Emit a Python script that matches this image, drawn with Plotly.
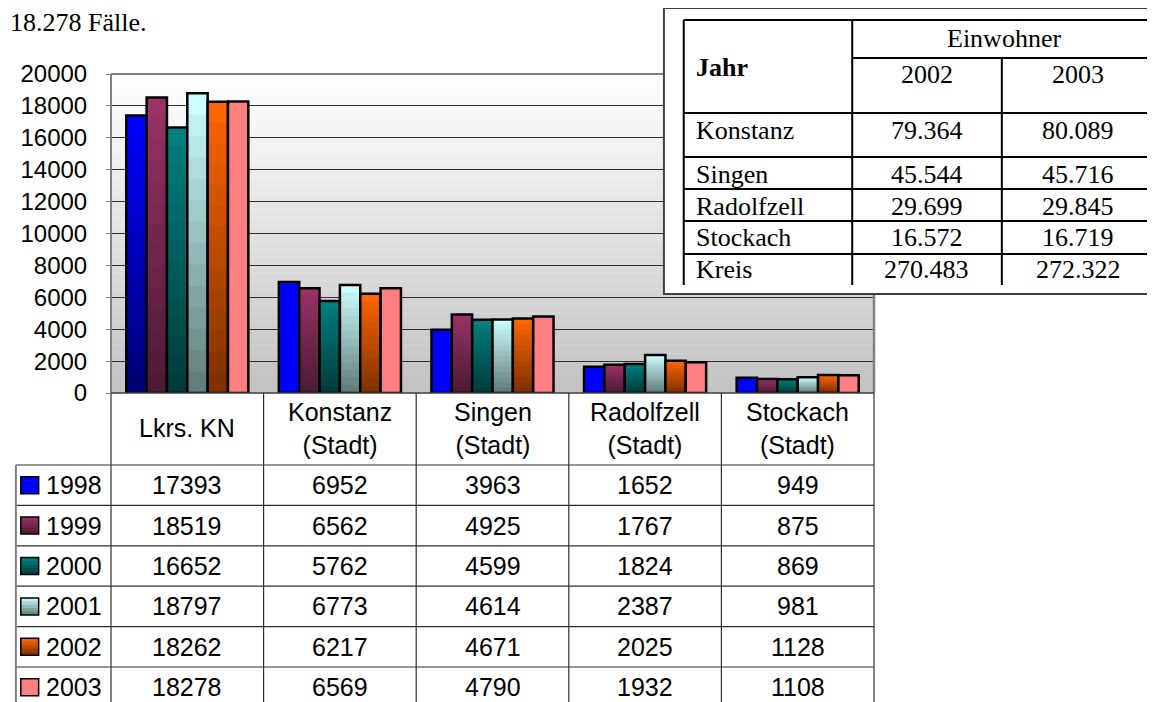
import plotly.graph_objects as go

# ---------------- data ----------------
categories = ["Lkrs. KN", "Konstanz (Stadt)", "Singen (Stadt)", "Radolfzell (Stadt)", "Stockach (Stadt)"]
category_labels = ["Lkrs. KN", "Konstanz<br>(Stadt)", "Singen<br>(Stadt)", "Radolfzell<br>(Stadt)", "Stockach<br>(Stadt)"]
years = ["1998", "1999", "2000", "2001", "2002", "2003"]
v1998 = [17393, 6952, 3963, 1652, 949]
v1999 = [18519, 6562, 4925, 1767, 875]
v2000 = [16652, 5762, 4599, 1824, 869]
v2001 = [18797, 6773, 4614, 2387, 981]
v2002 = [18262, 6217, 4671, 2025, 1128]
v2003 = [18278, 6569, 4790, 1932, 1108]
series_values = [v1998, v1999, v2000, v2001, v2002, v2003]

y_ticks = [0, 2000, 4000, 6000, 8000, 10000, 12000, 14000, 16000, 18000, 20000]

inset_header = "Einwohner"
inset_years = ["2002", "2003"]
inset_cities = ["Konstanz", "Singen", "Radolfzell", "Stockach", "Kreis"]
inset_2002 = [79364, 45544, 29699, 16572, 270483]
inset_2003 = [80089, 45716, 29845, 16719, 272322]

title_text = "18.278 Fälle."

# ---------------- style ----------------
top_colors = ["#0000FF", "#993366", "#008080", "#CCFFFF", "#FF6600", "#FF8080"]
bottom_colors = ["#000070", "#4A1A33", "#003A3A", "#5F7A78", "#7A3000", "#FF8080"]
gradient_mask = [
    [True, False, False, False, False],
    [True] * 5, [True] * 5, [True] * 5, [True] * 5,
    [False] * 5,
]
SANS = "Liberation Sans, Arial, sans-serif"
SERIF = "Liberation Serif, Times New Roman, serif"

# page is offset by the 8px body margin of the html page
OFF = 8
W, H = 1155 - OFF, 702 - OFF
# plot area in page pixels
L, R, T, B = 104, 874, 74, 393
PAGE_H = 702


def px(x):
    return (x - L) / (R - L)


def py(y):
    return (B - y) / (B - T)


def hex2rgb(h):
    h = h.lstrip("#")
    return tuple(int(h[i:i + 2], 16) for i in (0, 2, 4))


def lerp(c1, c2, t):
    a, b = hex2rgb(c1), hex2rgb(c2)
    return "rgb(%d,%d,%d)" % tuple(round(a[i] + (b[i] - a[i]) * t) for i in range(3))


fig = go.Figure()

# bars with vertical gradient (stacked overlapping bands in same offsetgroup)
N = 14
for i, (yr, vals) in enumerate(zip(years, series_values)):
    for k in range(N):
        frac = 1 - k / N
        if k == 0:
            ys = list(vals)
            col = top_colors[i]
        else:
            ys = [v * frac if m else None for v, m in zip(vals, gradient_mask[i])]
            if all(y is None for y in ys):
                continue
            col = lerp(top_colors[i], bottom_colors[i], (k + 0.5) / N)
        fig.add_trace(go.Bar(
            x=categories, y=ys, offsetgroup=str(i),
            marker=dict(color=col, line=dict(width=0)),
            showlegend=False, hoverinfo="skip"))
    fig.add_trace(go.Bar(
        x=categories, y=vals, name=yr, offsetgroup=str(i),
        marker=dict(color="rgba(0,0,0,0)", line=dict(color="black", width=2.5)),
        showlegend=False))

shapes = []
# plot background gradient
NB = 40
for k in range(NB):
    y0 = T + (B - T) * k / NB
    y1 = T + (B - T) * (k + 1) / NB
    shapes.append(dict(type="rect", xref="paper", yref="paper", layer="below",
                       x0=0, x1=1, y0=py(y1), y1=py(y0),
                       fillcolor=lerp("#FFFFFF", "#C2C2C2", (k + 0.5) / NB),
                       line=dict(width=0)))


def line(x0, y0, x1, y1, color="#303030", width=1):
    shapes.append(dict(type="line", xref="paper", yref="paper", layer="above",
                       x0=px(x0), x1=px(x1), y0=py(y0), y1=py(y1),
                       line=dict(color=color, width=width)))


# plot borders
line(L, T, R, T, "#808080", 2)
line(L, T, L, B, "#808080", 2)
line(R, T, R, B, "#808080", 2.5)
line(L, B, R, B, "#404040", 1.5)

# data table lines below the chart
col_edges = [L + (R - L) * j / len(categories) for j in range(len(categories) + 1)]
row_h = 40.4
row_tops = [465 + row_h * k for k in range(len(years))]
for xe in col_edges:
    line(xe, B, xe, PAGE_H + 5, "#303030", 1.2)
for yt in row_tops:
    line(8, yt, R, yt, "#303030", 1.2)
line(8, 465, 8, PAGE_H + 5, "#808080", 2)

# legend keys
for k, yt in enumerate(row_tops):
    cy = yt + row_h / 2
    y0k, y1k = cy - 8.5, cy + 8.5
    nb = 5
    for b in range(nb):
        ya = y0k + (y1k - y0k) * b / nb
        yb = y0k + (y1k - y0k) * (b + 1) / nb + 0.6
        c = top_colors[k] if k in (0, 5) else lerp(top_colors[k], bottom_colors[k], (b + 0.5) / nb)
        shapes.append(dict(type="rect", xref="paper", yref="paper", layer="above",
                           x0=px(13), x1=px(31), y0=py(min(yb, y1k)), y1=py(ya),
                           fillcolor=c, line=dict(width=0)))
    shapes.append(dict(type="rect", xref="paper", yref="paper", layer="above",
                       x0=px(13), x1=px(31), y0=py(y1k), y1=py(y0k),
                       fillcolor="rgba(0,0,0,0)", line=dict(color="black", width=1.5)))

# inset box
XR = 1175
shapes.append(dict(type="rect", xref="paper", yref="paper", layer="above",
                   x0=px(662), x1=px(XR), y0=py(294), y1=py(8),
                   fillcolor="white", line=dict(color="#404040", width=2)))
line(682, 20, 682, 285, "black", 2)
line(682, 20, XR, 20, "black", 2)
line(852, 20, 852, 285, "black", 2)
line(852, 58, XR, 58, "black", 2)
line(1003, 58, 1003, 285, "black", 2)
for yl in [113, 157, 189, 221, 254]:
    line(682, yl, XR, yl, "black", 2)

annotations = []


def text(x, y, s, font, size, xanchor="center", xref="paper"):
    annotations.append(dict(x=x if xref != "paper" else px(x), y=py(y), xref=xref, yref="paper",
                            text=s, showarrow=False, xanchor=xanchor, yanchor="middle",
                            font=dict(family=font, size=size, color="black")))


# title fragment
text(142, 22, title_text, SERIF, 26, xanchor="right")

# category headers
for c, lab in zip(categories, category_labels):
    text(c, 428, lab, SANS, 25, xref="x")

# table values + legend labels
for k, (yr, vals) in enumerate(zip(years, series_values)):
    cy = row_tops[k] + row_h / 2
    text(36, cy, yr, SANS, 25, xanchor="left")
    for c, v in zip(categories, vals):
        text(c, cy, str(v), SANS, 25, xref="x")


def de(v):
    return f"{v:,}".replace(",", ".")


# inset texts
text(1005, 38, inset_header, SERIF, 26)
text(692, 68, "<b>Jahr</b>", SERIF, 26, xanchor="left")
text(927, 74, inset_years[0], SERIF, 26)
text(1080, 74, inset_years[1], SERIF, 26)
row_centers = [130, 174, 206, 237, 269]
for cy, city, a, b in zip(row_centers, inset_cities, inset_2002, inset_2003):
    text(692, cy, city, SERIF, 26, xanchor="left")
    text(927, cy, de(a), SERIF, 26)
    text(1080, cy, de(b), SERIF, 26)

fig.update_layout(
    width=W, height=H, autosize=False,
    margin=dict(l=L - OFF, r=(W + OFF) - R, t=T - OFF, b=(H + OFF) - B, pad=0),
    paper_bgcolor="white", plot_bgcolor="white",
    barmode="group", bargap=0.2, bargroupgap=0,
    showlegend=False,
    shapes=shapes, annotations=annotations,
    xaxis=dict(type="category", categoryorder="array", categoryarray=categories,
               range=[-0.5, len(categories) - 0.5], showticklabels=False,
               showgrid=False, zeroline=False, showline=False, ticks=""),
    yaxis=dict(range=[0, 20000], tickvals=y_ticks, ticktext=[str(t) for t in y_ticks],
               showgrid=True, gridcolor="#303030", gridwidth=1, zeroline=False,
               showline=False, ticks="outside", ticklen=4, tickcolor="#808080",
               ticklabelstandoff=14,
               tickfont=dict(family=SANS, size=24, color="black")),
)

fig.write_html("out.html")
